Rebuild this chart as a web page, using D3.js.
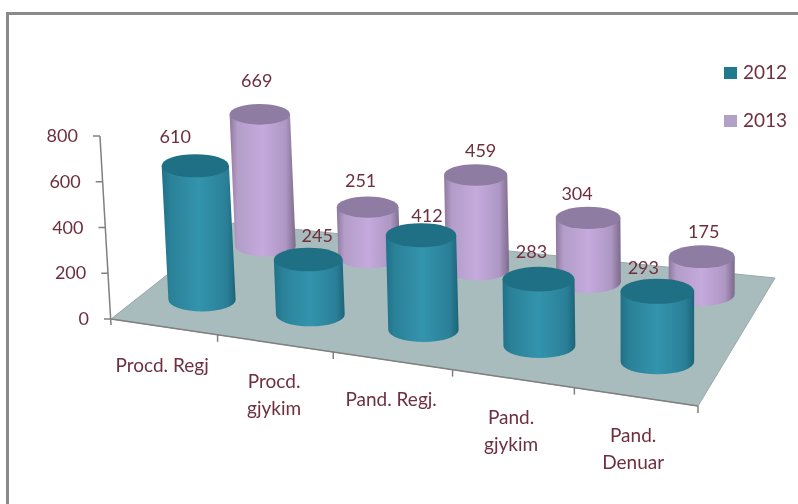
<!DOCTYPE html>
<html><head><meta charset="utf-8">
<script src="https://d3js.org/d3.v7.min.js"></script>
<style>html,body{margin:0;padding:0;background:#fff}svg{display:block;filter:blur(0.45px)}text{font-family:Lato,"Open Sans",sans-serif;fill:#6e2f3f}</style>
</head><body><div id="c"></div>
<script>
const categories = [["Procd. Regj"],["Procd.","gjykim"],["Pand. Regj."],["Pand.","gjykim"],["Pand.","Denuar"]];
const seriesNames = ["2012","2013"];
const values2012 = [610,245,412,283,293];
const values2013 = [669,251,459,304,175];
const yTicks = [0,200,400,600,800];

const W=798,H=504;
const svg=d3.select("#c").append("svg").attr("width",W).attr("height",H);
const defs=svg.append("defs");

// floor: bilinear patch with a mild power scale along the category direction
const A=[111,319],B=[698,406],C=[775,278],D=[233,223];
const uScale=d3.scalePow().exponent(1.06).domain([0,categories.length]).range([0,1]);
const colInset=d3.scaleLinear().domain([0,1]).range([0.0135,0.9955]);
const depth=d3.scaleOrdinal().domain(seriesNames).range([0.28,0.82]);
const lerp=(a,b,t)=>a+(b-a)*t;
function floorPt(u,v){
  const fx=lerp(A[0],B[0],u),fy=lerp(A[1],B[1],u),bx=lerp(D[0],C[0],u),by=lerp(D[1],C[1],u);
  return {x:lerp(fx,bx,v),y:lerp(fy,by,v),f:(1+0.12*u)*(1-0.18*v)};
}
const hScale=d3.scaleLinear().domain([0,800]).range([0,183]);
const lean=x=>(x-660)*0.00011;
function ground(i,s){return floorPt(colInset(uScale(i+0.5)),depth(s));}
function up(p,val){const h=hScale(val)*p.f;return {x:p.x+lean(p.x)*h,y:p.y-h,h};}

// floor
svg.append("polygon").attr("points",[A,B,C,D].map(p=>p.join(",")).join(" "))
  .attr("fill","#a9bcbd").attr("stroke","#98a8aa").attr("stroke-width",1);
// frame
svg.append("path").attr("d","M7.5,504V13.5H798").attr("fill","none").attr("stroke","#8a8a8a").attr("stroke-width",3);

// axes
const axisCol="#808080";
const yAt=v=>{const t=hScale(v);return {x:A[0]+lean(A[0])*t,y:A[1]-t};};
const ax=svg.append("g").attr("stroke",axisCol).attr("stroke-width",1.5).attr("fill","none");
ax.append("line").attr("x1",yAt(0).x).attr("y1",yAt(0).y+6).attr("x2",yAt(800).x).attr("y2",yAt(800).y);
ax.selectAll(".yt").data(yTicks).join("line")
  .attr("x1",d=>yAt(d).x-7).attr("x2",d=>yAt(d).x).attr("y1",d=>yAt(d).y).attr("y2",d=>yAt(d).y);
ax.append("line").attr("x1",A[0]).attr("y1",A[1]).attr("x2",B[0]).attr("y2",B[1]);
ax.selectAll(".xt").data(d3.range(1,categories.length+1)).join("line")
  .attr("x1",d=>floorPt(uScale(d),0).x).attr("x2",d=>floorPt(uScale(d),0).x)
  .attr("y1",d=>floorPt(uScale(d),0).y).attr("y2",d=>floorPt(uScale(d),0).y+7);
svg.append("g").selectAll("text").data(yTicks).join("text")
  .attr("x",d=>yAt(d).x-22).attr("y",d=>yAt(d).y+6).attr("text-anchor","end")
  .attr("font-size",18).text(d=>d);
// category labels
const catG=svg.append("g");
categories.forEach((lines,i)=>{
  const p=floorPt(uScale(i+0.5),0);
  lines.forEach((t,k)=>catG.append("text").attr("x",p.x-i*0.7).attr("y",p.y+45+k*27)
    .attr("text-anchor","middle").attr("font-size",19).text(t));
});

// gradients
function grad(id,stops){
  const g=defs.append("linearGradient").attr("id",id);
  stops.forEach(([o,c])=>g.append("stop").attr("offset",o).attr("stop-color",c));
}
grad("g2012",[[0,"#1f7189"],[0.12,"#2a8198"],[0.5,"#3394ad"],[0.88,"#2a7f97"],[1,"#1c6378"]]);
grad("g2013",[[0,"#8f789f"],[0.12,"#b49dc8"],[0.5,"#c4aadd"],[0.85,"#ae97c4"],[1,"#7c6a8a"]]);
const style={"2012":{fill:"url(#g2012)",top:"#1f6f85"},"2013":{fill:"url(#g2013)",top:"#8f7ca3"}};

// nudges of data labels from the top of each column (layout only)
const nudge={"2012":[[-20,-29],[9,-24],[6,-19],[-7,-27],[-14,-23]],"2013":[[-3,-33],[-7,-26],[5,-24],[-11,-24],[2,-25]]};

function drawSeries(name,vals){
  const st=style[name];
  const g=svg.append("g");
  vals.forEach((val,i)=>{
    const b=ground(i,name),t=up(b,val);
    const cg=g.append("g");
    cg.append("text").attr("x",t.x+nudge[name][i][0]).attr("y",t.y+nudge[name][i][1]+6)
      .attr("text-anchor","middle").attr("font-size",18).text(val);
    const rx=35*b.f,ry=12*b.f;
    cg.append("path").attr("fill",st.fill)
      .attr("d",`M${t.x-rx},${t.y}L${b.x-rx},${b.y}A${rx},${ry} 0 0 0 ${b.x+rx},${b.y}L${t.x+rx},${t.y}Z`);
    cg.append("ellipse").attr("cx",t.x).attr("cy",t.y).attr("rx",rx).attr("ry",ry).attr("fill",st.top);
  });
}
drawSeries("2013",values2013);
drawSeries("2012",values2012);

// legend
const legY=d3.scalePoint().domain(seriesNames).range([73,121]);
const lg=svg.append("g").selectAll("g").data(seriesNames).join("g");
lg.append("rect").attr("x",724).attr("y",d=>legY(d)-6).attr("width",13).attr("height",12)
  .attr("fill",d=>d==="2012"?"#21798f":"#b3a0c6");
lg.append("text").attr("x",743).attr("y",d=>legY(d)+6).attr("font-size",19).text(d=>d);
</script></body></html>
